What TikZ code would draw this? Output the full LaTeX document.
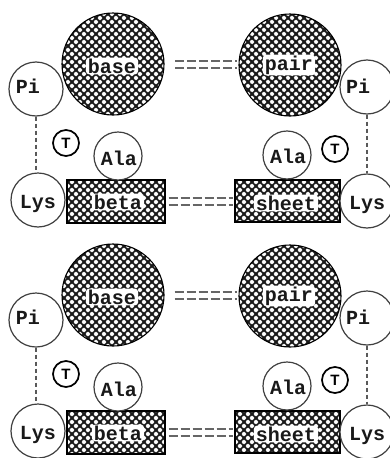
\documentclass[tikz,border=0pt]{standalone}
\usepackage{fontspec}
\newfontfamily\monof{Liberation Mono}
\newfontfamily\sansf{Liberation Sans}
\usetikzlibrary{patterns.meta}
\begin{document}
\begin{tikzpicture}[x=1pt,y=-1pt,
  hatchfill/.style={draw=black, line width=1.1pt, pattern={Hatch[angle=45,distance=5.657pt,line width=2.1pt]}, pattern color=black!90, inner sep=0pt},
  ring/.style={circle, draw=black!75, line width=1.2pt, fill=white, inner sep=0pt},
  lbl/.style={font=\monof\bfseries\fontsize{20}{20}\selectfont, inner sep=0.5pt, text=black!90},
  lblbg/.style={lbl, fill=white, rounded corners=3pt, inner xsep=2pt, inner ysep=1pt},
  tmark/.style={circle, draw=black, line width=1.7pt, fill=white, inner sep=0pt, minimum size=26pt, font=\sansf\bfseries\fontsize{15}{15}\selectfont},
  vlink/.style={draw=black!65, line width=2.4pt, dash pattern=on 4pt off 3pt},
  dbl/.style={draw=black!60, line width=2pt, dash pattern=on 9pt off 3pt}
]
\fill[white] (0,0) rectangle (390,458);
\useasboundingbox (0,0) rectangle (390,458);
\foreach \s/\dy in {a/0,b/231}{
\begin{scope}[yshift=-\dy pt]
  % big circles
  \node[hatchfill, circle, minimum size=102pt] (base\s) at (113,64) {};
  \node[hatchfill, circle, minimum size=102pt] (pair\s) at (290,65) {};
  \node[lblbg] (baset\s) at (112,66) {base};
  \node[lblbg] (pairt\s) at (289,65) {pair};
  % rectangles
  \node[hatchfill, rectangle, minimum width=98pt, minimum height=43pt] (beta\s) at (116,201.5) {};
  \node[hatchfill, rectangle, minimum width=105pt, minimum height=42pt] (sheet\s) at (287.5,201) {};
  \node[lblbg] (betat\s) at (118,202) {beta};
  \node[lblbg] (sheett\s) at (286,203) {sheet};
  % connectors
  \draw[dbl, shorten <=10pt, shorten >=1pt] ([yshift=3.5pt]base\s.east) -- ([yshift=3.5pt]base\s.east -| pair\s.west);
  \draw[dbl, shorten <=10pt, shorten >=1pt] ([yshift=-3.5pt]base\s.east) -- ([yshift=-3.5pt]base\s.east -| pair\s.west);
  \draw[dbl, shorten <=3pt, shorten >=1pt] ([yshift=3.5pt]beta\s.east) -- ([yshift=3.5pt]beta\s.east -| sheet\s.west);
  \draw[dbl, shorten <=3pt, shorten >=1pt] ([yshift=-3.5pt]beta\s.east) -- ([yshift=-3.5pt]beta\s.east -| sheet\s.west);
  % small circles
  \node[ring, minimum size=54pt] (piL\s) at (36,89) {};
  \node[lbl] (piLt\s) at (28,86) {Pi};
  \node[ring, minimum size=54pt] (piR\s) at (367,87) {};
  \node[lbl] (piRt\s) at (358,86) {Pi};
  \node[ring, minimum size=54pt] (lysL\s) at (38,200) {};
  \node[lbl] (lysLt\s) at (38,204) {Lys};
  \node[ring, minimum size=54pt] (lysR\s) at (367,201) {};
  \node[lbl] (lysRt\s) at (367,205) {Lys};
  \node[ring, minimum size=48pt] (alaL\s) at (118,156) {};
  \node[lbl] (alaLt\s) at (119,158) {Ala};
  \node[ring, minimum size=48pt] (alaR\s) at (287,155) {};
  \node[lbl] (alaRt\s) at (288,156) {Ala};
  \node[tmark] (tL\s) at (66,143) {T};
  \node[tmark] (tR\s) at (335,149) {T};
  % vertical dotted links
  \draw[vlink] (piL\s.south) -- (piL\s.south |- lysL\s.north);
  \draw[vlink] (piR\s.south) -- (piR\s.south |- lysR\s.north);
\end{scope}
}
\end{tikzpicture}
\end{document}
